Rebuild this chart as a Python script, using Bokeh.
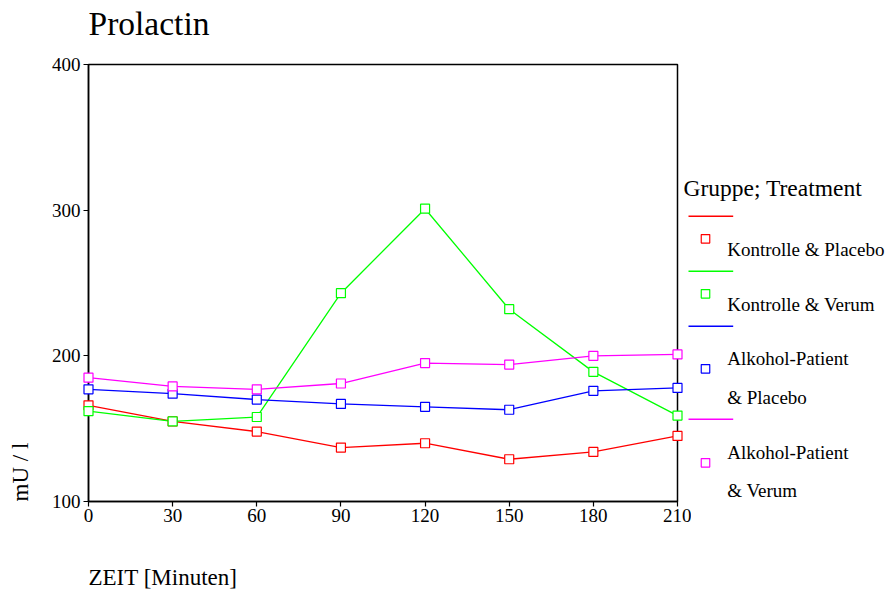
import math
from bokeh.plotting import figure
from bokeh.layouts import row, column
from bokeh.models import Range1d, FixedTicker
from bokeh.core.properties import value
from bokeh.embed import file_html
from bokeh.resources import INLINE

# ---------------- data ----------------
zeit = [0, 30, 60, 90, 120, 150, 180, 210]
kontrolle_placebo = [166, 155, 148, 137, 140, 129, 134, 145]
kontrolle_verum = [162, 155, 158, 243, 301, 232, 189, 159]
alkohol_placebo = [177, 174, 170, 167, 165, 163, 176, 178]
alkohol_verum = [185, 179, 177, 181, 195, 194, 200, 201]

x_ticks = [0, 30, 60, 90, 120, 150, 180, 210]
y_ticks = [100, 200, 300, 400]

title_text = "Prolactin"
x_label = "ZEIT [Minuten]"
y_label = "mU / l"
legend_title = "Gruppe; Treatment"
series_labels = [
    ["Kontrolle & Placebo"],
    ["Kontrolle & Verum"],
    ["Alkohol-Patient", "& Placebo"],
    ["Alkohol-Patient", "& Verum"],
]
series = [kontrolle_placebo, kontrolle_verum, alkohol_placebo, alkohol_verum]
colors = ["#ff0000", "#00ff00", "#0000ff", "#ff00ff"]

FONT = "Liberation Serif"

# ---------------- page layout (pixels) ----------------
PAGE_W, PAGE_H = 888, 590
TOP_H, BOT_H = 50, 45
MID_H = PAGE_H - TOP_H - BOT_H          # 495
LEFT_W, MAIN_W, RIGHT_W = 40, 651, 205
OVERLAP = 8
B_TOP, B_BOTTOM = 14, 44                # main chart borders above / below frame
FRAME_TOP = TOP_H + B_TOP               # page y of frame top
FRAME_BOTTOM = TOP_H + MID_H - B_BOTTOM # page y of frame bottom


def strip(w, h, x0, x1, y_top, y_bottom, border_top=0, border_bottom=0, margin=None):
    """A blank figure whose data coordinates equal page pixels."""
    f = figure(width=w, height=h,
               x_range=Range1d(x0, x1), y_range=Range1d(y_bottom, y_top),
               x_axis_location=None, y_axis_location=None,
               toolbar_location=None, output_backend="svg",
               min_border_left=0, min_border_right=0,
               min_border_top=border_top, min_border_bottom=border_bottom)
    f.grid.visible = False
    f.outline_line_color = None
    f.background_fill_alpha = 0
    f.border_fill_alpha = 0
    if margin is not None:
        f.margin = margin
    return f


def put_text(f, x, y, text, size_px, angle=0.0):
    # y is the middle of the text box
    f.text(x=[x], y=[y], text=[text], text_font=value(FONT),
           text_font_size=value(f"{size_px}px"), text_color="black",
           text_align="left", text_baseline="middle", angle=angle)


MID = 0.3375  # distance baseline -> middle of the font box, in em


# ---------------- main chart ----------------
p = figure(width=MAIN_W, height=MID_H,
           x_range=Range1d(0, 210), y_range=Range1d(100, 400),
           toolbar_location=None, output_backend="svg",
           min_border_left=48, min_border_right=14,
           min_border_top=B_TOP, min_border_bottom=B_BOTTOM)
p.grid.visible = False
p.outline_line_color = "black"
p.outline_line_width = 1.5
p.background_fill_color = "white"
p.border_fill_color = "white"

p.xaxis.ticker = FixedTicker(ticks=x_ticks, minor_ticks=[])
p.yaxis.ticker = FixedTicker(ticks=y_ticks, minor_ticks=[])
for ax, standoff in ((p.xaxis, 2), (p.yaxis, 3)):
    ax.axis_line_color = "black"
    ax.axis_line_width = 1.5
    ax.major_tick_line_color = "black"
    ax.major_tick_line_width = 1.2
    ax.major_tick_in = 0
    ax.major_tick_out = 5
    ax.minor_tick_line_color = None
    ax.major_label_text_font = FONT
    ax.major_label_text_font_size = "19px"
    ax.major_label_text_color = "black"
    ax.major_label_standoff = standoff

for ys, c in zip(series, colors):
    p.line(zeit, ys, line_color=c, line_width=1.3)
for ys, c in zip(series, colors):
    p.scatter(zeit, ys, marker="square", size=9, line_color=c,
              fill_color="white", line_width=1.2, level="overlay")

# ---------------- text strips ----------------
top = strip(PAGE_W, TOP_H, 0, PAGE_W, 0, TOP_H)
put_text(top, 88, 34.3 - MID * 33.5, title_text, 33.5)

left = strip(LEFT_W, MID_H, 0, LEFT_W, FRAME_TOP, FRAME_BOTTOM, B_TOP, B_BOTTOM)
put_text(left, 27.5 - MID * 23, 501, y_label, 23, angle=math.pi / 2)

bottom = strip(PAGE_W, BOT_H, 0, PAGE_W, TOP_H + MID_H, PAGE_H)
put_text(bottom, 88, 585 - MID * 23, x_label, 23)

rx0 = LEFT_W + MAIN_W - OVERLAP
right = strip(RIGHT_W, MID_H, rx0, rx0 + RIGHT_W, FRAME_TOP, FRAME_BOTTOM,
              B_TOP, B_BOTTOM, margin=(0, 0, 0, -OVERLAP))
put_text(right, 683, 195.7 - MID * 23.5, legend_title, 23.5)
line_y = [215.7, 270.7, 325.7, 418.7]
square_y = [238.3, 293.3, 368.3, 462.3]
label_base = [[255.0], [310.0], [364.3, 403.3], [458.3, 496.7]]
for c, ly, sy, labs, bases in zip(colors, line_y, square_y, series_labels, label_base):
    right.segment(x0=[688], y0=[ly], x1=[732.7], y1=[ly], line_color=c, line_width=1.5)
    right.scatter(x=[705], y=[sy], marker="square", size=8.5, line_color=c,
                  fill_color="white", line_width=1.2)
    for t, b in zip(labs, bases):
        put_text(right, 726.7, b - MID * 19, t, 19)

layout = column(top, row(left, p, right), bottom)
open("out.html", "w").write(file_html(layout, INLINE))
